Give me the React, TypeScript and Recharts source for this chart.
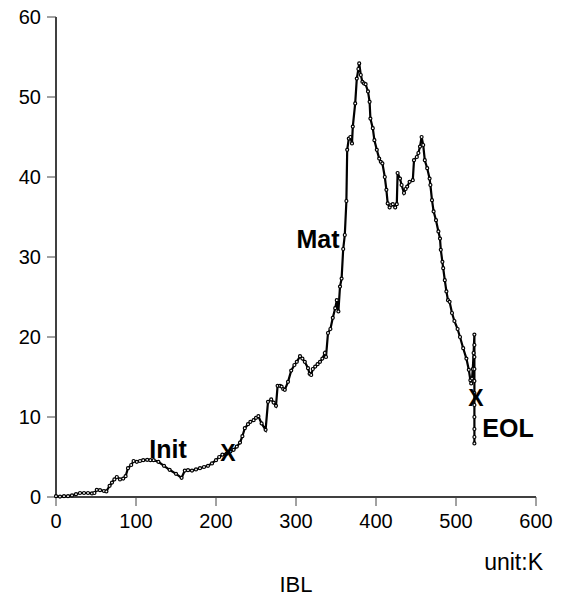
import {Line, LineChart, ReferenceDot, XAxis, YAxis} from 'recharts';

// IBL curve, traced point by point
const ibl_x = [
    0, 5, 10, 15, 20, 25, 30, 35, 40, 45, 48, 51, 55, 60, 63, 67, 70, 73, 76, 80,
    84, 87, 90, 94, 97, 101, 105, 109, 114, 118, 122, 128, 135, 142, 150, 157, 161, 165, 170, 175,
    180, 185, 190, 195, 200, 204, 208, 213, 218, 222, 226, 230, 233, 236, 240, 243, 247, 250, 253, 257,
    262, 265, 269, 272, 275, 277, 280, 282, 284, 286, 290, 294, 298, 301, 305, 308, 311, 315, 317, 319,
    321, 324, 327, 330, 333, 336, 337.5, 340, 343, 346, 349, 351, 353, 355, 357, 359, 361, 363, 364, 366,
    368, 370, 371, 374, 376, 378, 379, 381, 383, 385, 387, 390, 392, 393, 396, 398, 401, 404, 406, 408,
    411, 413, 414.6, 417, 419, 421, 424, 426, 427, 430, 432, 435, 437, 439, 442, 446, 447.5, 451, 453, 455,
    457, 459, 461, 464, 467, 468, 470, 472, 475, 478, 480, 481, 483, 484, 486, 488, 490, 492, 495, 498,
    502, 505, 509, 513, 516, 518, 519, 520, 521, 522, 523, 523, 523, 523, 523, 523, 523, 523, 523, 523,
    523,
];
const ibl_y = [
    0.1, 0.05, 0.1, 0.1, 0.2, 0.35, 0.5, 0.5, 0.5, 0.45, 0.5, 0.9, 0.85, 0.75, 0.7, 1.4, 1.8, 2.2, 2.5, 2.2,
    2.3, 2.6, 3.6, 4.0, 4.5, 4.4, 4.5, 4.6, 4.65, 4.6, 4.6, 4.4, 3.9, 3.4, 2.9, 2.4, 3.3, 3.35, 3.3, 3.45,
    3.6, 3.75, 3.9, 4.2, 4.6, 5.0, 5.3, 5.4, 5.7, 5.9, 6.3, 6.8, 7.6, 8.6, 9.1, 9.4, 9.6, 9.9, 10.1, 9.2,
    8.4, 11.9, 12.2, 11.8, 11.4, 13.9, 13.9, 13.8, 13.5, 13.4, 14.4, 15.8, 16.5, 16.9, 17.6, 17.3, 16.9, 16.1, 15.4, 15.25,
    16.0, 16.3, 16.6, 16.9, 17.3, 18.0, 17.5, 20.5, 21.0, 22.4, 23.6, 24.6, 23.2, 26.3, 27.3, 31, 32.75, 37, 43.4, 44.8,
    45, 44.2, 46.3, 49.2, 52.3, 53.5, 54.2, 52.75, 51.9, 51.7, 51.6, 50.7, 49.4, 47.3, 46.1, 44.6, 43.4, 42.3, 41.9, 41.7,
    40.0, 38.4, 36.7, 36.2, 36.5, 36.6, 36.2, 36.6, 40.5, 39.8, 39, 38, 38.5, 38.8, 39.4, 39.6, 42.1, 42.5, 43, 43.8,
    45.0, 44, 42.1, 41.1, 39.8, 39, 37.1, 35.7, 34.6, 33.2, 32.3, 30.9, 29.4, 28.6, 27.1, 25.7, 24.6, 24.4, 23, 22.0,
    21, 20, 18.6, 17.3, 15.9, 14.6, 14.2, 14.8, 16, 18, 20.3, 19, 17.5, 16, 14.5, 13, 11.5, 10, 8.5, 7.5,
    6.7,
];

const xTicks = [0, 100, 200, 300, 400, 500, 600];
const yTicks = [0, 10, 20, 30, 40, 50, 60];

// annotations on the curve
const notes = [
    {text: 'Init', x: 140, y: 6.0, size: 25},
    {text: 'X', x: 215, y: 5.5, size: 23},
    {text: 'Mat', x: 327.5, y: 32.25, size: 25},
    {text: 'X', x: 525, y: 12.4, size: 23},
    {text: 'EOL', x: 565, y: 8.6, size: 25},
];

const data = ibl_x.map((x, i) => ({x, ibl: ibl_y[i]}));

const font = '"Liberation Sans", Arial, sans-serif';

const AxisTitles = (props: any) => {
    const vb = props.viewBox || {x: 56, y: 497, width: 480, height: 99};
    return (
        <g>
            <text x={vb.x + vb.width + 7} y={vb.y + 73} textAnchor="end" fontSize={23} fill="#000"
                  fontFamily={font}>unit:K</text>
            <text x={vb.x + vb.width / 2} y={vb.y + 95} textAnchor="middle" fontSize={22} fill="#000"
                  fontFamily={font}>IBL</text>
        </g>
    );
};

export default function App() {
    return (
        <div style={{position: 'absolute', left: 0, top: 0, background: '#fff'}}>
            <LineChart width={565} height={596} data={data} margin={{top: 17, right: 29, left: 0, bottom: 0}}
                       style={{fontFamily: font}}>
                <XAxis dataKey="x" type="number" domain={[0, 600]} ticks={xTicks} interval={0} height={99}
                       axisLine={{stroke: '#000', strokeWidth: 1.5}} tickLine={{stroke: '#444'}}
                       tickSize={9} tickMargin={8} tick={{fill: '#000', fontSize: 20}}
                       label={<AxisTitles/>}/>
                <YAxis type="number" domain={[0, 60]} ticks={yTicks} interval={0} width={56}
                       axisLine={{stroke: '#000', strokeWidth: 1.5}} tickLine={{stroke: '#444'}}
                       tickSize={9} tickMargin={6} tick={{fill: '#000', fontSize: 20}}/>
                <XAxis xAxisId="top" orientation="top" type="number" domain={[0, 600]} height={0}
                       tick={false} tickLine={false} axisLine={{stroke: '#000', strokeWidth: 1.5}}/>
                <YAxis yAxisId="right" orientation="right" type="number" domain={[0, 60]} width={0}
                       tick={false} tickLine={false} axisLine={{stroke: '#000', strokeWidth: 1.5}}/>
                <Line type="linear" dataKey="ibl" stroke="#000" strokeWidth={2.2}
                      dot={{r: 1.5, stroke: '#000', strokeWidth: 1.2, fill: '#fff'}}
                      isAnimationActive={false}/>
                {notes.map((n, i) => (
                    <ReferenceDot key={i} x={n.x} y={n.y} r={1}
                                  shape={(p: any) => (
                                      <text x={p.cx} y={p.cy} textAnchor="middle" dominantBaseline="central"
                                            fontSize={n.size} fontWeight="bold" fill="#000"
                                            fontFamily={font}>{n.text}</text>
                                  )}/>
                ))}
            </LineChart>
        </div>
    );
}
